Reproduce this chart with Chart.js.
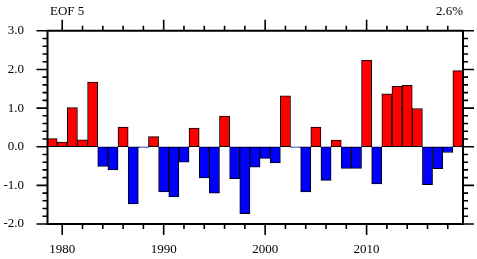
<!DOCTYPE html>
<html>
<head>
<meta charset="utf-8">
<script src="https://cdn.jsdelivr.net/npm/chart.js@4/dist/chart.umd.min.js"></script>
<style>
  html, body { margin: 0; padding: 0; background: #fff; }
  #wrap { position: relative; width: 477px; height: 259px; }
</style>
</head>
<body>
<div id="wrap"><canvas id="eofChart"></canvas></div>
<script>
const years = [1979, 1980, 1981, 1982, 1983, 1984, 1985, 1986, 1987, 1988,
    1989, 1990, 1991, 1992, 1993, 1994, 1995, 1996, 1997, 1998,
    1999, 2000, 2001, 2002, 2003, 2004, 2005, 2006, 2007, 2008,
    2009, 2010, 2011, 2012, 2013, 2014, 2015, 2016, 2017, 2018, 2019];
const pcValues = [0.21, 0.12, 1.01, 0.18, 1.67, -0.51, -0.60, 0.51, -1.48, -0.02,
    0.26, -1.17, -1.30, -0.40, 0.48, -0.81, -1.20, 0.79, -0.83, -1.73,
    -0.53, -0.30, -0.42, 1.32, -0.02, -1.17, 0.51, -0.87, 0.17, -0.56,
    -0.56, 2.24, -0.96, 1.37, 1.56, 1.59, 0.99, -0.98, -0.57, -0.15, 1.97];

const xLabelTicks = [1980, 1990, 2000, 2010];
const xMinorTicks = [1982, 1984, 1986, 1988, 1992, 1994, 1996, 1998, 2002, 2004, 2006, 2008, 2012, 2014, 2016, 2018];
const yLabelTicks = [-2, -1, 0, 1, 2, 3];
const yMinorTicks = [];
for (let i = -20; i <= 30; i += 2) { if (i % 10 !== 0) yMinorTicks.push(i / 10); }

const leftTitle = 'EOF 5';
const rightTitle = '2.6%';

const FONT = "'Liberation Serif', 'Times New Roman', serif";

// frame + tick marks on all four sides, plus the two corner labels
const frameTicks = {
    id: 'frameTicks',
    afterDraw(chart) {
        const ctx = chart.ctx;
        const a = chart.chartArea;
        const xs = chart.scales.x, ys = chart.scales.y;
        const L = 47.5, R = 463, T = a.top, B = a.bottom;
        ctx.save();
        ctx.strokeStyle = '#000';
        ctx.lineWidth = 2;
        ctx.beginPath();
        ctx.rect(L, T, R - L, B - T);
        ctx.stroke();

        ctx.lineWidth = 1.6;
        ctx.beginPath();
        const yTick = (v, len) => {
            const py = ys.getPixelForValue(v);
            ctx.moveTo(L, py); ctx.lineTo(L - len, py);
            ctx.moveTo(R, py); ctx.lineTo(R + len, py);
        };
        yLabelTicks.forEach(v => yTick(v, 11));
        yMinorTicks.forEach(v => yTick(v, 5));
        const xTick = (v, len) => {
            const px = xs.getPixelForValue(v);
            ctx.moveTo(px, T); ctx.lineTo(px, T - len);
            ctx.moveTo(px, B); ctx.lineTo(px, B + len);
        };
        xLabelTicks.forEach(v => xTick(v, 11));
        xMinorTicks.forEach(v => xTick(v, 5));
        ctx.stroke();

        ctx.fillStyle = '#000';
        ctx.font = '13px ' + FONT;
        ctx.textBaseline = 'alphabetic';
        ctx.textAlign = 'left';
        ctx.fillText(leftTitle, 50, 15);
        ctx.textAlign = 'right';
        ctx.fillText(rightTitle, 463, 15);
        ctx.restore();
    }
};

new Chart(document.getElementById('eofChart'), {
    type: 'bar',
    data: {
        datasets: [{
            data: years.map((yr, i) => ({ x: yr, y: pcValues[i] })),
            backgroundColor: c => (c.raw && c.raw.y >= 0 ? '#ff0000' : '#0000ff'),
            borderColor: '#000',
            borderWidth: 1,
            borderSkipped: false,
            barPercentage: 1,
            categoryPercentage: 1
        }]
    },
    options: {
        responsive: true,
        maintainAspectRatio: false,
        animation: false,
        layout: { padding: { left: 0, top: 30, right: 14, bottom: 0 } },
        plugins: { legend: { display: false }, tooltip: { enabled: false } },
        scales: {
            x: {
                type: 'linear',
                min: 1978.5,
                max: 2019.5,
                offset: false,
                grid: { display: false, drawTicks: false },
                border: { display: false },
                afterBuildTicks: s => { s.ticks = xLabelTicks.map(v => ({ value: v })); },
                afterFit: s => { s.height = 35; },
                ticks: {
                    padding: 18,
                    maxRotation: 0,
                    autoSkip: false,
                    color: '#000',
                    font: { family: FONT, size: 13 },
                    callback: v => String(v)
                }
            },
            y: {
                min: -2,
                max: 3,
                grid: { display: false, drawTicks: false },
                border: { display: false },
                afterBuildTicks: s => { s.ticks = yLabelTicks.map(v => ({ value: v })); },
                afterFit: s => { s.width = 47; },
                ticks: {
                    padding: 23,
                    color: '#000',
                    font: { family: FONT, size: 13 },
                    callback: v => Number(v).toFixed(1)
                }
            }
        }
    },
    plugins: [frameTicks]
});
</script>
</body>
</html>
